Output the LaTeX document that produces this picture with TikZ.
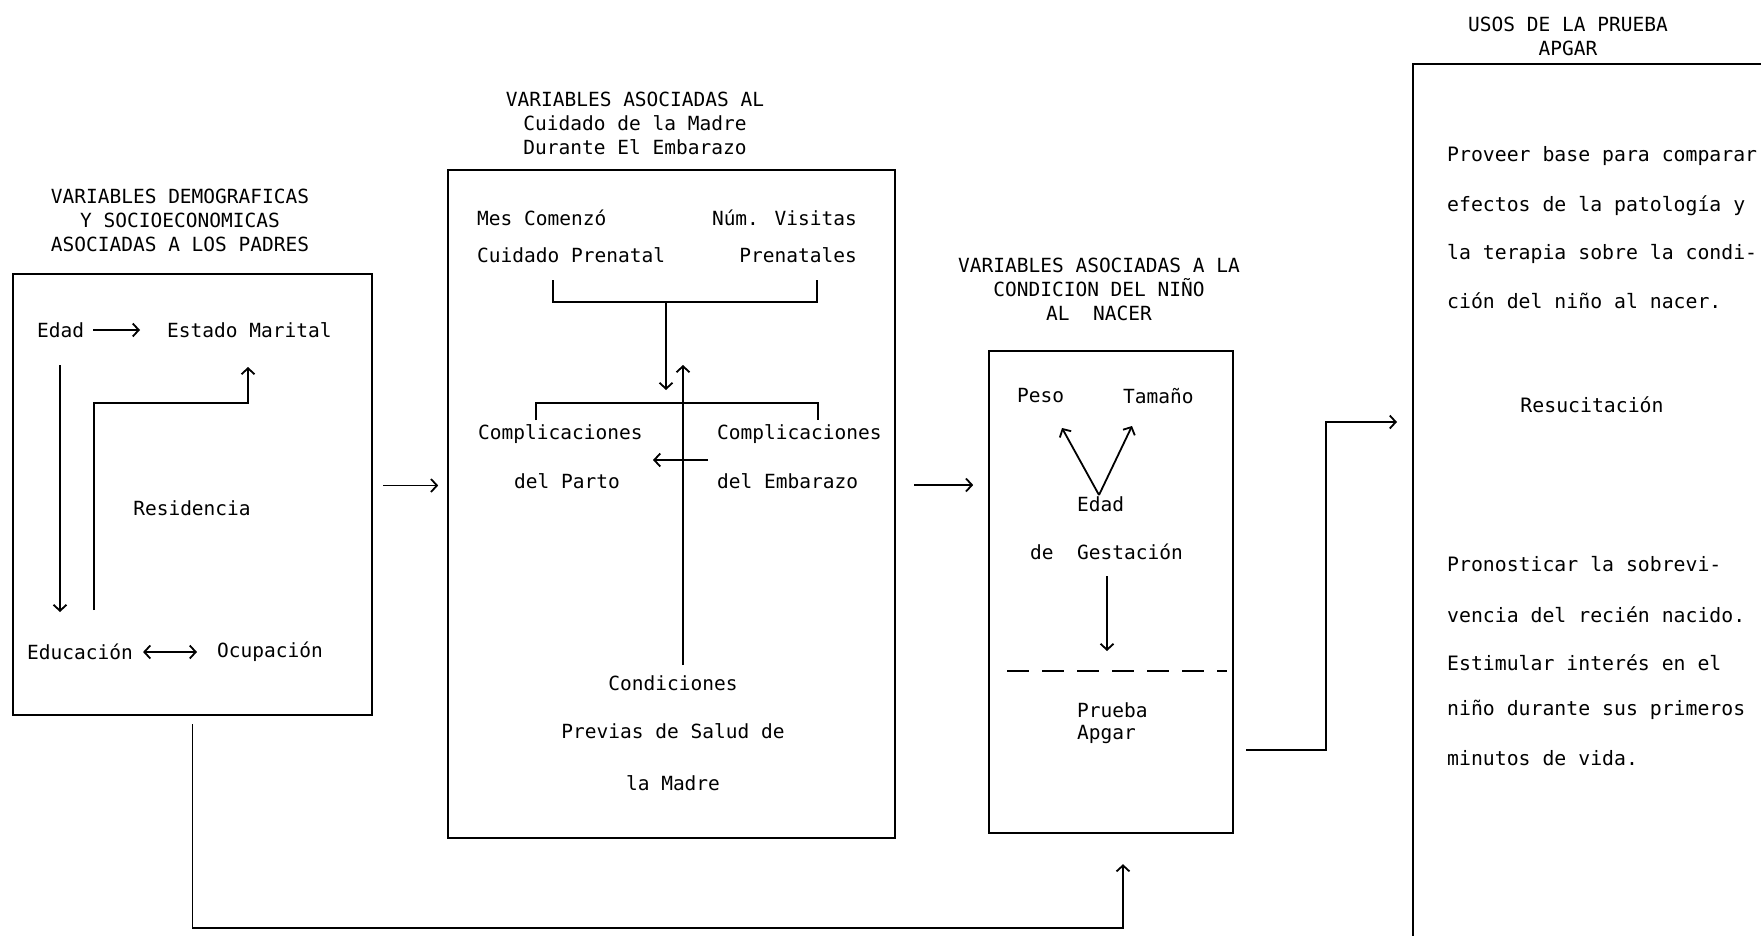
\documentclass[tikz,border=0pt]{standalone}
\usepackage{fontspec}
\setmainfont{DejaVu Sans Mono}
\usepackage{tikz}
\usetikzlibrary{arrows.meta, positioning, calc}

\begin{document}
\begin{tikzpicture}[x=1pt, y=-1pt, font=\fontsize{19.5}{24}\selectfont,
    caja/.style={draw, line width=2.4pt, inner sep=0pt},
    linea/.style={line width=1.8pt},
    flecha/.style={linea, -{Straight Barb[length=6pt, width=13pt]}},
    doble/.style={linea, {Straight Barb[length=6pt, width=13pt]}-{Straight Barb[length=6pt, width=13pt]}},
    txt/.style={inner sep=0pt, anchor=west},
    ctxt/.style={inner sep=0pt},
    titulo/.style={inner sep=0pt, align=center},
    usostxt/.style={inner sep=0pt, anchor=west, font=\fontsize{19.8}{24}\selectfont}]

    % marco
    \useasboundingbox (0,0) rectangle (1761,936);
    \fill[white] (0,0) rectangle (1761,936);

    % variables de los padres
    \node[titulo] (tPadres) at (180,220) {VARIABLES DEMOGRAFICAS\\Y SOCIOECONOMICAS\\ASOCIADAS A LOS PADRES};
    \node[caja, minimum width=359pt, minimum height=441pt] (padres) at (192.5,494.5) {};
    \node[txt] (edad) at (37,330) {Edad};
    \node[txt] (estado) at (167,330) {Estado Marital};
    \node[ctxt] (resid) at (192,508) {Residencia};
    \node[txt] (educ) at (27,652) {Educación};
    \node[txt] (ocup) at (217,652) {Ocupación};

    \coordinate (bajaEdad) at (60,365);
    \coordinate (llegaEduc) at (60,612);
    \coordinate (saleResid) at (94,610);
    \coordinate (llegaEstado) at (248,367);
    \draw[flecha] ([xshift=9pt]edad.east) -- ([xshift=-27pt]estado.west);
    \draw[flecha] (bajaEdad) -- (llegaEduc);
    \draw[flecha] (saleResid) -- ++(0,-207) -| (llegaEstado);
    \draw[doble] ([xshift=10pt]educ.east) -- ([xshift=-20pt]ocup.west);

    % cuidado de la madre
    \node[titulo] (tMadre) at (635,123) {VARIABLES ASOCIADAS AL\\Cuidado de la Madre\\Durante El Embarazo};
    \node[caja, minimum width=447pt, minimum height=668pt] (madre) at (671.5,504) {};
    \node[txt] (mes) at (477,218) {Mes Comenzó};
    \node[txt] (cuid) at (477,255) {Cuidado Prenatal};
    \node[txt, anchor=east] (num) at (857,218) {Núm. Visitas};
    \node[txt, anchor=east] (pren) at (857,255) {Prenatales};
    \node[txt] (compP) at (478,434) {Complicaciones};
    \node[ctxt] (parto) at (567,481) {del Parto};
    \node[txt] (compE) at (717,434) {Complicaciones};
    \node[txt] (embar) at (717,481) {del Embarazo};
    \node[ctxt] (cond) at (673,683) {Condiciones};
    \node[ctxt] (previas) at (673,731) {Previas de Salud de};
    \node[ctxt] (lamadre) at (673,783) {la Madre};

    \coordinate (llaveArr) at (666,302);
    \coordinate (llegaComp) at (666,390);
    \coordinate (saleCond) at (683,665);
    \coordinate (subeCond) at (683,365);
    \draw[linea] (553,280) -- (553,302) -- (817,302) -- (817,280);
    \draw[flecha] (llaveArr) -- (llegaComp);
    \draw[linea] (536,420) -- (536,403) -- (818,403) -- (818,420);
    \draw[flecha] ([xshift=-9pt,yshift=-26pt]compE.west) -- ++(-55,0);
    \draw[flecha] (saleCond) -- (subeCond);

    % condicion del nino
    \node[titulo] (tNino) at (1099,289) {VARIABLES ASOCIADAS A LA\\CONDICION DEL NIÑO\\AL\ \ NACER};
    \node[caja, minimum width=244pt, minimum height=482pt] (nino) at (1111,592) {};
    \node[txt] (peso) at (1017,396) {Peso};
    \node[txt] (tam) at (1123,396) {Tamaño};
    \node[txt] (edadG) at (1077,504) {Edad};
    \node[txt] (gest) at (1030,552) {de\ \ Gestación};
    \node[txt] (prueba) at (1077,710) {Prueba};
    \node[txt] (apgar) at (1077,734) {Apgar};

    \coordinate (vertice) at (1099,495);
    \coordinate (llegaPeso) at (1062,428);
    \coordinate (llegaTam) at (1132,426);
    \coordinate (bajaGest) at (1107,576);
    \coordinate (llegaLinea) at (1107,651);
    \draw[flecha] (vertice) -- (llegaPeso);
    \draw[flecha] (vertice) -- (llegaTam);
    \draw[flecha] (bajaGest) -- (llegaLinea);
    \draw[line width=2.6pt, dash pattern=on 22pt off 13pt] (1007,671) -- (1227,671);

    % usos de la prueba
    \coordinate (usosNO) at (1413,64);
    \draw[line width=2.4pt] (1761,64) -- (usosNO) -- (1413,936);
    \node[titulo] (tUsos) at (1568,36) {USOS DE LA PRUEBA\\APGAR};
    \node[usostxt] (u1) at (1447,156) {Proveer base para comparar};
    \node[usostxt] (u2) at (1447,206) {efectos de la patología y};
    \node[usostxt] (u3) at (1447,254) {la terapia sobre la condi-};
    \node[usostxt] (u4) at (1447,301) {ción del niño al nacer.};
    \node[ctxt, font=\fontsize{19.8}{24}\selectfont] (resuc) at (1592,405) {Resucitación};
    \node[usostxt] (u5) at (1447,564) {Pronosticar la sobrevi-};
    \node[usostxt] (u6) at (1447,615) {vencia del recién nacido.};
    \node[usostxt] (u7) at (1447,663) {Estimular interés en el};
    \node[usostxt] (u8) at (1447,710) {niño durante sus primeros};
    \node[usostxt] (u9) at (1447,758) {minutos de vida.};

    % conexiones entre cajas
    \coordinate (entUsos) at (1397,422);
    \draw[flecha] (padres.east) ++(10,-9) -- ++(55,0);
    \draw[flecha] (madre.east) ++(18,-19) -- ++(59,0);
    \draw[flecha] (nino.east) ++(12,158) -- ++(80,0) |- (entUsos);
    \draw[flecha] (padres.south) ++(0,8) -- ++(0,204) -| ([xshift=12pt,yshift=-30pt]nino.south);
\end{tikzpicture}
\end{document}
